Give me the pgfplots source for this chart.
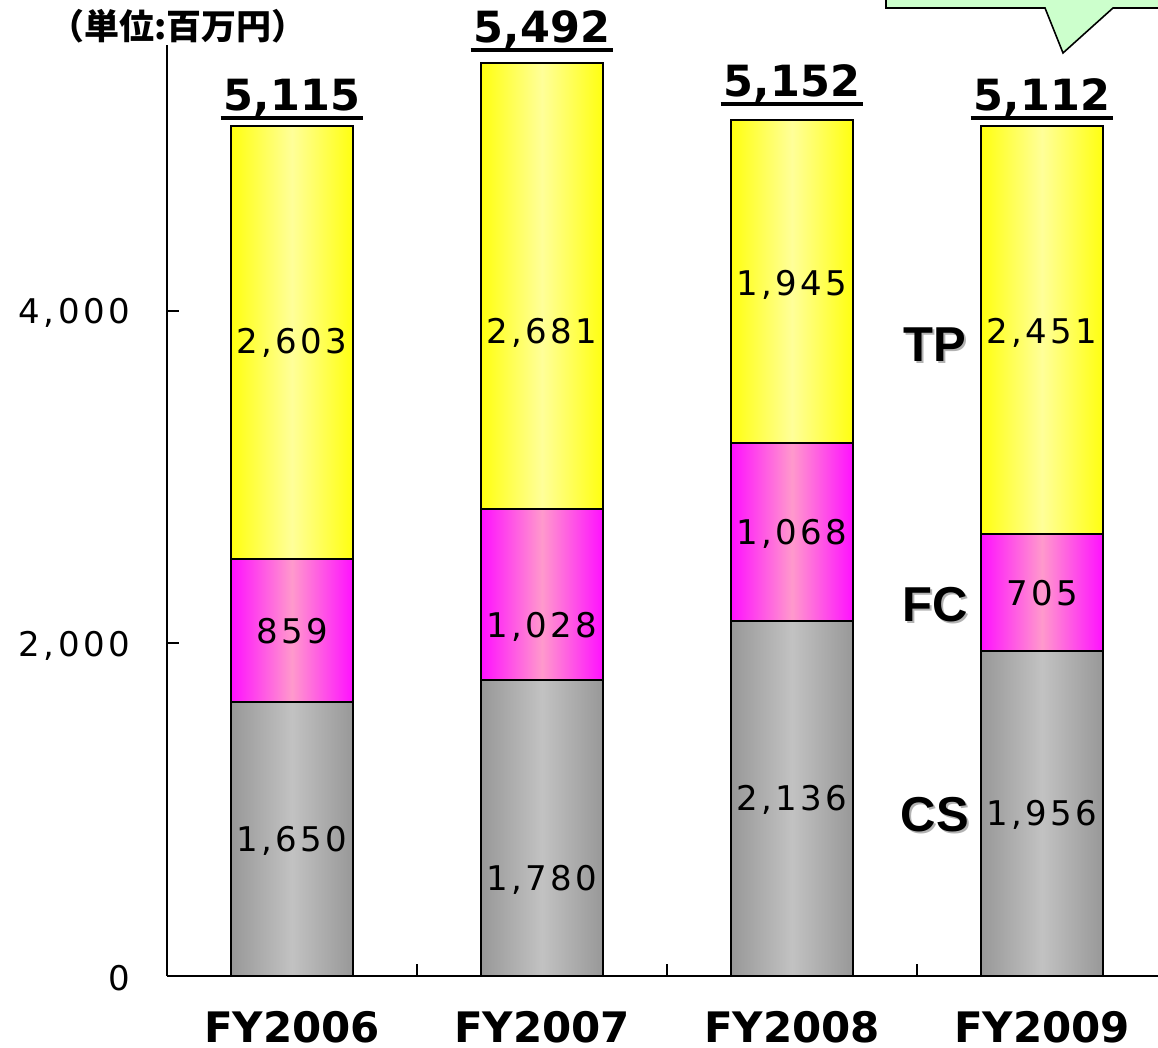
\documentclass[border=0pt]{standalone}
\usepackage{fontspec}
\setmainfont{DejaVu Sans}
\newfontfamily\numfont{DejaVu Sans}[LetterSpace=10]
\newfontfamily\arialfont{Liberation Sans}
\newfontfamily\cjk{Noto Sans CJK JP}
\usepackage{pgfplots}
\pgfplotsset{compat=1.18}

\definecolor{csedge}{HTML}{989898}
\definecolor{csmid}{HTML}{C2C2C2}
\definecolor{fcedge}{HTML}{FF10FF}
\definecolor{fcmid}{HTML}{FF99CC}
\definecolor{tpedge}{HTML}{FFFF10}
\definecolor{tpmid}{HTML}{FFFF99}
\definecolor{callout}{HTML}{CCFFCC}

% every year is its own stacked axis, so that each bar gets its own shading
\pgfplotsset{
  frame/.style={scale only axis, width=500pt, height=465.5pt,
    xmin=-0.5, xmax=3.5, ymin=0, ymax=5600, clip=false},
  bars/.style={frame, hide axis, ybar stacked, bar width=61pt},
  cs/.style={draw=black, line width=1pt, left color=csedge, right color=csedge, middle color=csmid},
  fc/.style={draw=black, line width=1pt, left color=fcedge, right color=fcedge, middle color=fcmid},
  tp/.style={draw=black, line width=1pt, left color=tpedge, right color=tpedge, middle color=tpmid},
}

\begin{document}
\begin{tikzpicture}[
  val/.style={font=\numfont\fontsize{17}{17}\selectfont},
  tot/.style={font=\bfseries\fontsize{21.5}{21.5}\selectfont, anchor=south,
    inner xsep=1.5pt, inner ysep=0.5pt,
    append after command={(\tikzlastnode.south west) edge[line width=1.7pt] (\tikzlastnode.south east)}},
  seg/.style={font=\arialfont\bfseries\fontsize{24.5}{24.5}\selectfont}
]
\useasboundingbox (-83.5pt,-36pt) rectangle (495.5pt,488pt);

\begin{axis}[bars]
\addplot[cs] coordinates {(0,1650)};
\addplot[fc] coordinates {(0,859)};
\addplot[tp] coordinates {(0,2603)};
\end{axis}
\begin{axis}[bars]
\addplot[cs] coordinates {(1,1780)};
\addplot[fc] coordinates {(1,1028)};
\addplot[tp] coordinates {(1,2681)};
\end{axis}
\begin{axis}[bars]
\addplot[cs] coordinates {(2,2136)};
\addplot[fc] coordinates {(2,1068)};
\addplot[tp] coordinates {(2,1945)};
\end{axis}
\begin{axis}[bars]
\addplot[cs] coordinates {(3,1956)};
\addplot[fc] coordinates {(3,705)};
\addplot[tp] coordinates {(3,2451)};
\end{axis}

\begin{axis}[
  frame,
  axis x line=bottom, axis y line=left,
  axis line style={-, line width=1pt},
  tick align=inside, major tick length=6pt,
  every tick/.style={black, line width=1pt},
  ytick={0,2000,4000},
  /pgf/number format/assume math mode=true,
  /pgf/number format/1000 sep={,},
  yticklabel style={font=\numfont\fontsize{17}{17}\selectfont, xshift=-15pt, yshift=-1pt},
  xtick={0.5,1.5,2.5}, xticklabels={},
  extra x ticks={0,1,2,3},
  extra x tick labels={FY2006,FY2007,FY2008,FY2009},
  extra x tick style={major tick length=0pt,
    tick label style={font=\bfseries\fontsize{21}{21}\selectfont, inner sep=0pt, yshift=-17.5pt}},
]
\node[val] at (axis cs:0,812) {1,650};
\node[val] at (axis cs:0,2075) {859};
\node[val] at (axis cs:0,3808) {2,603};
\node[val] at (axis cs:1,577) {1,780};
\node[val] at (axis cs:1,2099) {1,028};
\node[val] at (axis cs:1,3868) {2,681};
\node[val] at (axis cs:2,1059) {2,136};
\node[val] at (axis cs:2,2659) {1,068};
\node[val] at (axis cs:2,4156) {1,945};
\node[val] at (axis cs:3,969) {1,956};
\node[val] at (axis cs:3,2304) {705};
\node[val] at (axis cs:3,3868) {2,451};

\node[tot] at (axis cs:0,5160) {5,115};
\node[tot] at (axis cs:1,5570) {5,492};
\node[tot] at (axis cs:2,5245) {5,152};
\node[tot] at (axis cs:3,5160) {5,112};
\end{axis}

% series names with a soft shadow
\foreach \t/\yy in {TP/315.5, FC/185.5, CS/80.5}{
  \node[seg, text=black!30] at (385pt,\yy pt-1pt) {\t};
  \node[seg] at (384pt,\yy pt) {\t};
}

% unit label
\node[font=\cjk\bfseries\fontsize{17.5}{17.5}\selectfont] at (5.5pt,475pt) {（単位:百万円）};

% speech bubble at the top right
\filldraw[fill=callout, draw=black, line width=0.8pt]
  (359.5pt,500pt) -- (359.5pt,484pt) -- (439pt,484pt) -- (448pt,461.5pt)
  -- (473pt,484pt) -- (510pt,484pt) -- (510pt,500pt) -- cycle;
\end{tikzpicture}
\end{document}
